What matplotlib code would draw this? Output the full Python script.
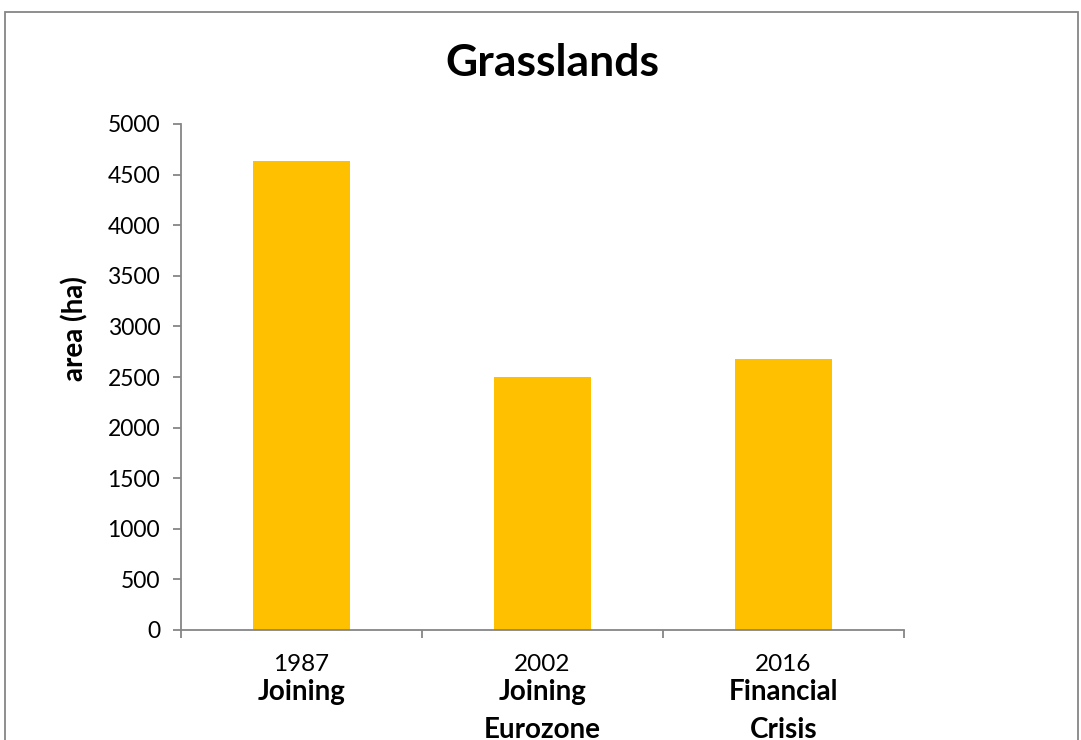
import matplotlib.pyplot as plt
from matplotlib.patches import Rectangle

plt.rcParams['font.family'] = ['Lato', 'DejaVu Sans']

years = ['1987', '2002', '2016']
events = ['Joining', 'Joining\nEurozone', 'Financial\nCrisis']
area = [4635, 2500, 2678]

fig = plt.figure(figsize=(10.81, 7.4), dpi=100)
ax = fig.add_axes([181 / 1081, 110 / 740, 723 / 1081, 506 / 740])

x = range(len(years))
ax.bar(x, area, width=0.4, color='#FFC000')

ax.set_xlim(-0.5, len(years) - 0.5)
ax.set_ylim(0, 5000)
ax.set_yticks(range(0, 5001, 500))
ax.set_xticks([i - 0.5 for i in range(len(years) + 1)])
ax.set_xticklabels([])

grey = '#868686'
for s in ['top', 'right']:
    ax.spines[s].set_visible(False)
for s in ['left', 'bottom']:
    ax.spines[s].set_color(grey)
    ax.spines[s].set_linewidth(1.3)
ax.tick_params(axis='both', colors=grey, length=6, width=1.3)
ax.tick_params(axis='y', labelcolor='black', labelsize=16.5, pad=9)

# category labels: year on one line, event in bold below
for i in x:
    ax.annotate(years[i], (i, 0), xycoords=('data', 'axes fraction'),
                xytext=(0, -17), textcoords='offset points',
                ha='center', va='top', fontsize=17.5)
    ax.annotate(events[i], (i, 0), xycoords=('data', 'axes fraction'),
                xytext=(0, -35), textcoords='offset points',
                ha='center', va='top', fontsize=20, fontweight='bold',
                linespacing=1.6)

ax.set_ylabel('area (ha)', fontsize=20, fontweight='bold')
ax.yaxis.set_label_coords(-93 / 723, (630 - 329) / 506)
fig.text(552 / 1081, 677 / 740, 'Grasslands', ha='center', va='center',
         fontsize=32, fontweight='bold')

# chart frame
fig.patches.append(Rectangle((5 / 1081, -0.1), 1073 / 1081, 1.1 - 12 / 740,
                             transform=fig.transFigure, fill=False,
                             edgecolor=grey, linewidth=1.3))

fig.savefig('out.png', dpi=100)
